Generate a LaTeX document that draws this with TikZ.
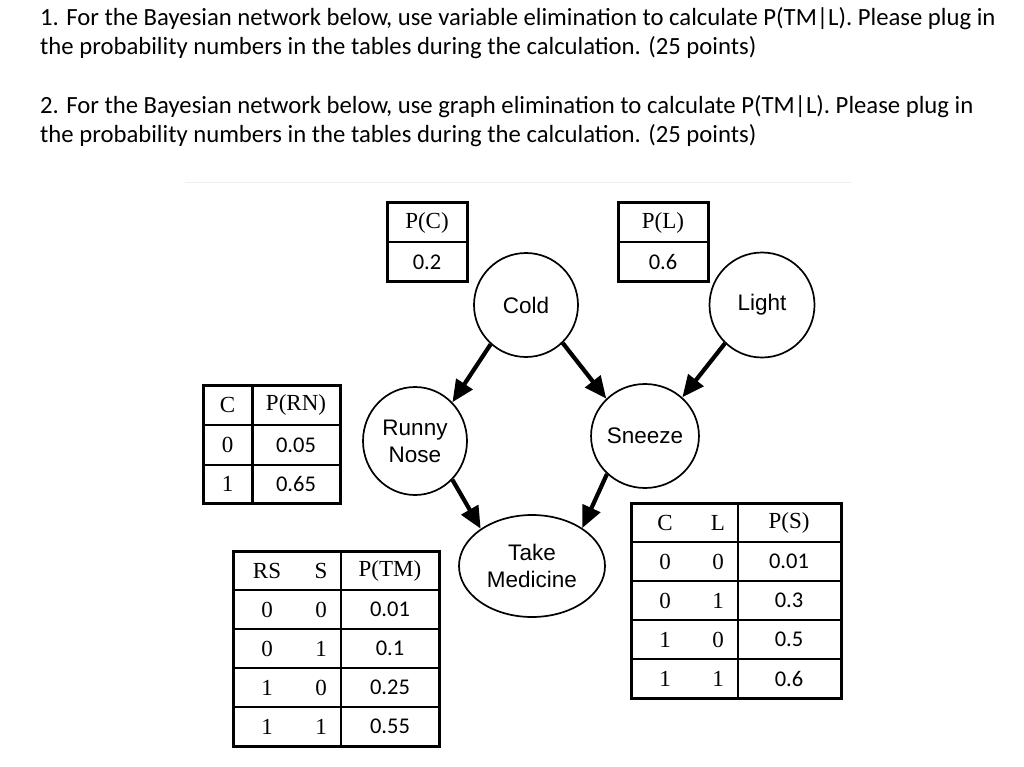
\documentclass[tikz,border=0pt]{standalone}
\usepackage{fontspec}
\setmainfont{Carlito}
\newfontfamily\arialf{Liberation Sans}
\newfontfamily\timesf{Liberation Serif}
\newfontfamily\calf{Carlito}
\usetikzlibrary{arrows.meta,shapes.geometric}
\tikzset{
  qtext/.style={anchor=base west,inner sep=0pt,font=\calf\fontsize{24.7}{29}\selectfont},
  bnode/.style={ellipse,draw,line width=1.7pt,inner sep=0pt,align=center,
    font=\arialf\fontsize{22.5}{27}\selectfont},
  arr/.style={line width=4.2pt,-{Triangle[length=22pt,width=19pt]}},
  outer/.style={line width=3pt},
  inner/.style={line width=1.5pt},
  thd/.style={inner sep=0pt,font=\timesf\fontsize{23}{26}\selectfont},
  tnum/.style={inner sep=0pt,font=\calf\fontsize{22.5}{26}\selectfont},
}
\begin{document}
\begin{tikzpicture}[x=1pt,y=-1pt]
\fill[white] (0,0) rectangle (1024,767);
\useasboundingbox (0,0) rectangle (1024,767);

% question text
\node[qtext] (q1a) at (40,26) {1. For the Bayesian network below, use variable elimination to calculate P(TM|L). Please plug in};
\node[qtext] (q1b) at (40,55) {the probability numbers in the tables during the calculation. (25 points)};
\node[qtext] (q2a) at (40,114) {2. For the Bayesian network below, use graph elimination to calculate P(TM|L). Please plug in};
\node[qtext] (q2b) at (40,143) {the probability numbers in the tables during the calculation. (25 points)};

% faint frame line
\draw[black!6,line width=1pt] (185,183) -- (852,183);

% network nodes
\node[bnode,minimum width=104pt,minimum height=104pt] (cold) at (526,305) {Cold};
\node[bnode,minimum width=105pt,minimum height=105pt] (light) at (762,305) {Light};
\node[bnode,minimum width=104pt,minimum height=108pt] (rn) at (415,441) {Runny\\Nose};
\node[bnode,minimum width=104pt,minimum height=104pt] (sn) at (645,436) {Sneeze};
\node[bnode,minimum width=146pt,minimum height=102pt] (tm) at (532,566) {Take\\Medicine};

% arrows
\draw[arr] (cold.228) -- (rn.46);
\draw[arr] (cold.-46) -- (sn.136);
\draw[arr] (light.226) -- (sn.46);
\draw[arr] (rn.-46) -- (tm.144);
\draw[arr] (sn.225) -- (tm.37);

% P(C) table
\draw[inner] (387,242) -- (467,242);
\draw[outer] (387,203) rectangle (467,281);
\node[thd] (pch) at (427,223) {P(C)};
\node[tnum] (pcv) at (427,262) {0.2};

% P(L) table
\draw[inner] (618,242) -- (708,242);
\draw[outer] (618,203) rectangle (708,281);
\node[thd] (plh) at (663,223) {P(L)};
\node[tnum] (plv) at (663,262) {0.6};

% P(RN) table
\draw[inner] (203,425) -- (340,425);
\draw[inner] (203,465) -- (340,465);
\draw[outer] (252,385) -- (252,503);
\draw[outer] (203,385) rectangle (340,503);
\node[thd] (rnh1) at (227.5,405) {C};
\node[thd] (rnh2) at (296,405) {P(RN)};
\node[thd] (rnc0) at (227.5,445) {0};
\node[tnum] (rnv0) at (296,445) {0.05};
\node[thd] (rnc1) at (227.5,484) {1};
\node[tnum] (rnv1) at (296,484) {0.65};

% P(TM) table
\foreach \yy in {590,629,668,707} \draw[inner] (233,\yy) -- (439,\yy);
\draw[inner] (341,551) -- (341,746);
\draw[outer] (233,551) rectangle (439,746);
\node[thd] (tmh1) at (267,570.5) {RS};
\node[thd] (tmh2) at (321,570.5) {S};
\node[thd] (tmh3) at (390,570.5) {P(TM)};
\node[thd] (tma1) at (267,609.5) {0};
\node[thd] (tmb1) at (321,609.5) {0};
\node[tnum] (tmv1) at (390,609.5) {0.01};
\node[thd] (tma2) at (267,648.5) {0};
\node[thd] (tmb2) at (321,648.5) {1};
\node[tnum] (tmv2) at (390,648.5) {0.1};
\node[thd] (tma3) at (267,687.5) {1};
\node[thd] (tmb3) at (321,687.5) {0};
\node[tnum] (tmv3) at (390,687.5) {0.25};
\node[thd] (tma4) at (267,726.5) {1};
\node[thd] (tmb4) at (321,726.5) {1};
\node[tnum] (tmv4) at (390,726.5) {0.55};

% P(S) table
\foreach \yy in {542,581,620,659} \draw[inner] (631,\yy) -- (841,\yy);
\draw[inner] (738,503) -- (738,698);
\draw[outer] (631,503) rectangle (841,698);
\node[thd] (sh1) at (665,522.5) {C};
\node[thd] (sh2) at (718,522.5) {L};
\node[thd] (sh3) at (789,522.5) {P(S)};
\node[thd] (sc1) at (665,561.5) {0};
\node[thd] (sl1) at (718,561.5) {0};
\node[tnum] (sv1) at (789,561.5) {0.01};
\node[thd] (sc2) at (665,600.5) {0};
\node[thd] (sl2) at (718,600.5) {1};
\node[tnum] (sv2) at (789,600.5) {0.3};
\node[thd] (sc3) at (665,639.5) {1};
\node[thd] (sl3) at (718,639.5) {0};
\node[tnum] (sv3) at (789,639.5) {0.5};
\node[thd] (sc4) at (665,678.5) {1};
\node[thd] (sl4) at (718,678.5) {1};
\node[tnum] (sv4) at (789,678.5) {0.6};
\end{tikzpicture}
\end{document}
